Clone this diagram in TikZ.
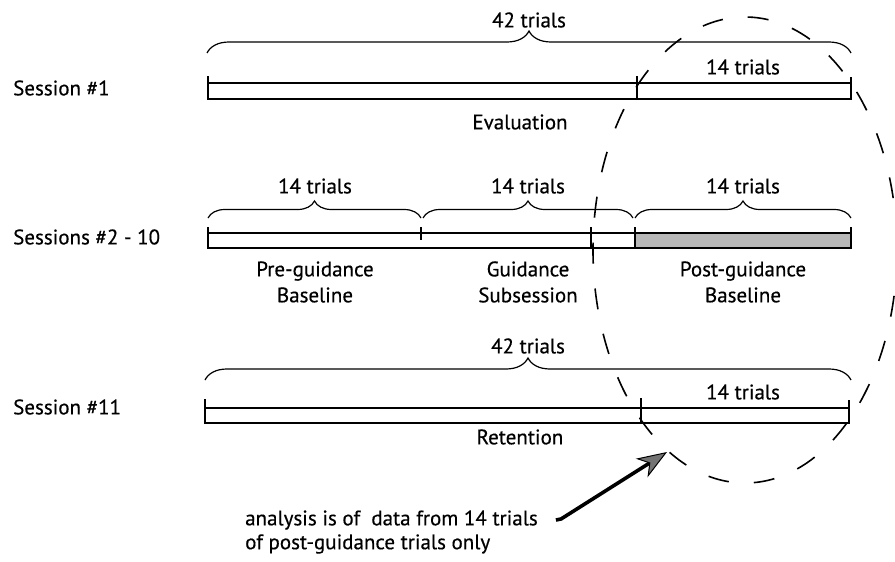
\documentclass[tikz,border=0pt]{standalone}
\usepackage{fontspec}
\setmainfont{PT Sans}[UprightFeatures={FakeBold=0.4}]
\usepackage{tikz}
\usetikzlibrary{arrows.meta,decorations.pathreplacing}

\begin{document}
\begin{tikzpicture}[x=1pt, y=-1pt, every node/.style={font=\fontsize{21}{26}\selectfont, inner sep=0pt},
  >={Stealth[length=30pt, width=22pt, inset=9pt, line width=1pt, fill=black!55]},
  brace/.style={decorate, decoration={brace, amplitude=#1}, line width=1.2pt}, brace/.default=22pt,
  bar/.style={line width=1.5pt}, bartop/.style={line width=2.3pt},
  circdash/.style={line width=1.6pt, dash pattern=on 21pt off 25pt},
  pointer/.style={->, line width=3.6pt}]
	\useasboundingbox (0,0) rectangle (895,562);
	% session 1
	\draw[brace] (207,53) -- (851,53);
	\node (all1) at (529,20) {42 trials};
	\draw[bar] (208,76) -- (208,99) -- (851,99) -- (851,77);
	\draw[bartop] (208,83) -- (851,83);
	\draw[bar] (637,76) -- (637,99);
	\node (last1) at (743,67) {14 trials};
	\node (eval) at (520,122) {Evaluation};
	\node[anchor=west] (ses1) at (13,88) {Session \#1};
	% sessions 2 - 10
	\fill[black!28] (635,233) rectangle (851,248);
	\draw[brace=17pt] (208,218) -- (421,218);
	\draw[brace=17pt] (423,218) -- (633,218);
	\draw[brace=17pt] (635,218) -- (851,218);
	\node (pre) at (315,186) {14 trials};
	\node (gui) at (528,186) {14 trials};
	\node (post) at (743,186) {14 trials};
	\draw[bar] (208,227) -- (208,248) -- (851,248) -- (851,227);
	\draw[bartop] (208,233) -- (851,233);
	\draw[bar] (421,227) -- (421,240);
	\draw[bar] (591,227) -- (591,248);
	\draw[bar] (635,227) -- (635,248);
	\node[align=center] (prelab) at (315,282) {Pre-guidance\\Baseline};
	\node[align=center] (guilab) at (528,282) {Guidance\\Subsession};
	\node[align=center] (postlab) at (743,282) {Post-guidance\\Baseline};
	\node[anchor=west] (ses2) at (13,237) {Sessions \#2 - 10};
	% session 11
	\draw[brace] (205,380) -- (851,380);
	\node (all11) at (528,346) {42 trials};
	\draw[bar] (205,399) -- (205,423) -- (849,423) -- (849,400);
	\draw[bartop] (205,408) -- (849,408);
	\draw[bar] (641,398) -- (641,423);
	\node (last11) at (743,392) {14 trials};
	\node (ret) at (520,437) {Retention};
	\node[anchor=west] (ses11) at (13,407) {Session \#11};
	% post-guidance data
	\draw[circdash] (745,250) ellipse [x radius=152, y radius=233];
	\node[anchor=west] (note1) at (245,520) {analysis is of\ \ data from 14 trials};
	\node[anchor=west] (note2) at (245,544) {of post-guidance trials only};
	\coordinate (bend) at (561,519);
	\coordinate (tip) at (667,452);
	\draw[pointer] ([xshift=18pt]note1.east) -- (bend) -- (tip);
\end{tikzpicture}
\end{document}
